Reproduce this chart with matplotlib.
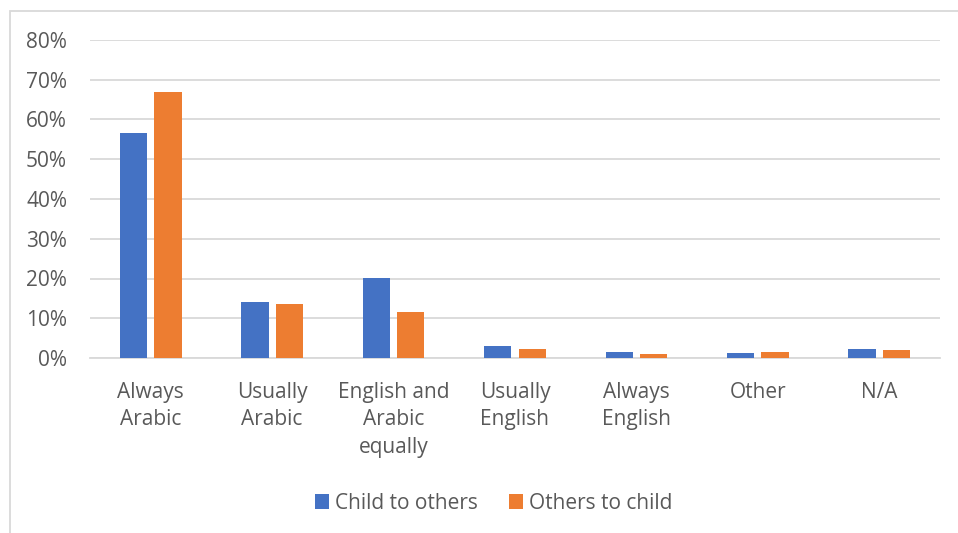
import matplotlib.pyplot as plt
import matplotlib.ticker as ticker
import numpy as np
from matplotlib.patches import Rectangle

# доли ответов по категориям языка общения
categories = ['Always\nArabic', 'Usually\nArabic', 'English and\nArabic\nequally',
              'Usually\nEnglish', 'Always\nEnglish', 'Other', 'N/A']
child_to_others = [0.565, 0.140, 0.202, 0.030, 0.014, 0.013, 0.022]
others_to_child = [0.669, 0.135, 0.116, 0.023, 0.009, 0.015, 0.020]
series_names = ['Child to others', 'Others to child']

blue = '#4472c4'
orange = '#ed7d31'
text_color = '#595959'
grid_color = '#d9d9d9'

plt.rcParams['font.family'] = ['Open Sans', 'DejaVu Sans']

fig = plt.figure(figsize=(9.58, 5.33), dpi=100)
ax = fig.add_axes([90 / 958, 1 - 358 / 533, 850 / 958, 318 / 533])

x = np.arange(len(categories))
w = 0.225
ax.bar(x - 0.142, child_to_others, w, color=blue, label=series_names[0], zorder=3)
ax.bar(x + 0.142, others_to_child, w, color=orange, label=series_names[1], zorder=3)

ax.set_xlim(-0.5, len(categories) - 0.5)
ax.set_ylim(0, 0.8)
ax.yaxis.set_major_locator(ticker.MultipleLocator(0.1))
ax.yaxis.set_major_formatter(ticker.PercentFormatter(1.0, decimals=0))
ax.grid(axis='y', color=grid_color, linewidth=1.3, zorder=0)

for s in ['top', 'right', 'left']:
    ax.spines[s].set_visible(False)
ax.spines['bottom'].set_color(grid_color)
ax.spines['bottom'].set_linewidth(1.3)

ax.set_xticks(x)
ax.set_xticklabels(categories, fontsize=15, color=text_color, linespacing=1.42)
ax.tick_params(axis='x', length=0, pad=17)
ax.tick_params(axis='y', length=0, pad=16.5, labelsize=15, labelcolor=text_color)

leg = ax.legend(loc='center', bbox_to_anchor=(0.475, -0.457), ncol=2, frameon=False,
                fontsize=15, handlelength=0.67, handleheight=0.67, handletextpad=0.3,
                columnspacing=1.5)
for t in leg.get_texts():
    t.set_color(text_color)

# рамка области диаграммы
fig.patches.append(Rectangle((10 / 958, -0.1), 1.1, 1 - 11 / 533 + 0.1,
                             transform=fig.transFigure, fill=False,
                             edgecolor=grid_color, linewidth=1.3))

fig.savefig('out.png', dpi=100)
